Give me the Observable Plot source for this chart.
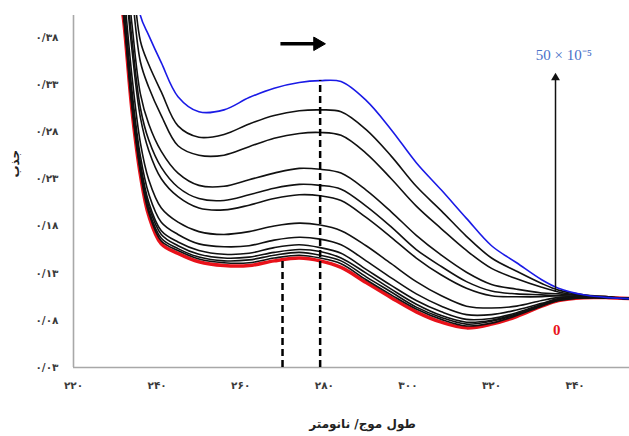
<!DOCTYPE html>
<html><head><meta charset="utf-8">
<script src="https://cdn.jsdelivr.net/npm/d3@7"></script>
<script src="https://cdn.jsdelivr.net/npm/@observablehq/plot@0.6"></script>
<style>body{margin:0;background:#fff}</style>
</head><body><div id="chart"></div>
<script>
const wavelengths = [231,232,234,236,238,241,245,250,256,262,268,274,279,284,290,296,302,308,314,320,326,332,336,342,348,353];

const red0   = [.430,.398,.302,.234,.191,.161,.151,.142,.138,.138,.143,.146,.143,.136,.120,.104,.089,.078,.072,.076,.084,.095,.101,.104,.104,.103];
const black11= [.433,.401,.305,.237,.194,.164,.154,.145,.141,.141,.146,.149,.146,.140,.123,.107,.092,.081,.074,.077,.085,.095,.101,.104,.104,.103];
const black10= [.436,.403,.308,.240,.197,.167,.156,.147,.143,.144,.149,.152,.149,.143,.126,.110,.094,.083,.076,.079,.086,.096,.101,.104,.104,.103];
const black9 = [.439,.406,.311,.242,.201,.171,.159,.150,.146,.147,.152,.155,.153,.146,.130,.113,.097,.085,.078,.080,.087,.096,.102,.104,.104,.103];
const black8 = [.443,.410,.315,.247,.205,.175,.163,.154,.150,.151,.157,.160,.157,.151,.134,.117,.101,.089,.081,.082,.088,.097,.102,.104,.104,.103];
const black7 = [.450,.417,.323,.254,.214,.184,.171,.161,.158,.159,.165,.168,.166,.160,.143,.125,.108,.095,.086,.086,.091,.098,.103,.104,.104,.103];
const black6 = [.464,.430,.338,.268,.229,.199,.184,.174,.171,.174,.180,.183,.181,.175,.159,.140,.121,.106,.095,.093,.095,.101,.104,.105,.104,.103];
const black5 = [.491,.456,.366,.295,.260,.230,.211,.199,.197,.202,.209,.213,.212,.207,.189,.168,.146,.128,.114,.106,.105,.105,.106,.105,.104,.103];
const black4 = [.501,.466,.377,.305,.271,.242,.221,.209,.207,.213,.220,.224,.223,.219,.201,.179,.155,.137,.121,.111,.108,.107,.106,.105,.104,.103];
const black3 = [.517,.481,.393,.320,.288,.259,.236,.223,.222,.229,.236,.241,.240,.236,.218,.195,.170,.149,.131,.118,.113,.109,.108,.106,.104,.103];
const black2 = [.551,.513,.428,.354,.327,.297,.265,.255,.255,.264,.273,.278,.279,.276,.257,.230,.201,.177,.154,.135,.124,.115,.110,.106,.104,.103];
const black1 = [.573,.534,.452,.376,.351,.322,.286,.274,.277,.288,.297,.302,.303,.301,.282,.254,.222,.196,.169,.146,.132,.119,.112,.107,.105,.103];
const blue50 = [.600,.560,.480,.403,.382,.353,.317,.301,.303,.316,.326,.332,.334,.333,.313,.282,.247,.218,.188,.159,.141,.123,.114,.107,.104,.103];

const yTicks = [0.03,0.08,0.13,0.18,0.23,0.28,0.33,0.38];
const yTickLabels = ["۰/۰۳","۰/۰۸","۰/۱۳","۰/۱۸","۰/۲۳","۰/۲۸","۰/۳۳","۰/۳۸"];
const xTicks = [220,240,260,280,300,320,340];
const xTickLabels = ["۲۲۰","۲۴۰","۲۶۰","۲۸۰","۳۰۰","۳۲۰","۳۴۰"];

const xTitle = "طول موج/ نانومتر";
const yTitle = "جذب";

// annotations (data units)
const dashedLines = [{x: 270, top: 0.146}, {x: 279, top: 0.334}];
const shiftArrowShaft = [{x1: 269.5, x2: 278.6, y: 0.373}];
const shiftArrowHead = [{x: 278.4, y: 0.373}];
const concArrowShaft = [{x: 335.3, y1: 0.110, y2: 0.338}];
const concArrowHead = [{x: 335.3, y: 0.337}];
const topLabel = [{x: 337.3, y: 0.361, text: "50 × 10⁻⁵"}];
const bottomLabel = [{x: 335.6, y: 0.070, text: "0"}];

const blacks = [black1,black2,black3,black4,black5,black6,black7,black8,black9,black10,black11];
const toRows = (vals, name) => wavelengths.map((w, i) => ({x: w, y: vals[i], s: name}));
const redRows = toRows(red0, "0");
const blueRows = toRows(blue50, "50");
const blackRows = blacks.flatMap((v, k) => toRows(v, "b" + (k + 1)));

const lab = (ticks, labels) => d => labels[ticks.findIndex(v => Math.abs(v - d) < 1e-9)];
const curve = "catmull-rom";

const chart = Plot.plot({
  width: 629, height: 436,
  marginLeft: 73, marginRight: 0, marginTop: 15, marginBottom: 69,
  x: {domain: [220, 353]},
  y: {domain: [0.03, 0.403]},
  style: {fontFamily: "DejaVu Sans", background: "#fff", color: "#333"},
  marks: [
    Plot.axisY({ticks: yTicks, tickFormat: lab(yTicks, yTickLabels), tickSize: 0, tickPadding: 15, fontSize: 10.5, fontWeight: "bold", fill: "#3a3a3a", label: null}),
    Plot.axisX({ticks: xTicks, tickFormat: lab(xTicks, xTickLabels), tickSize: 0, tickPadding: 14, fontSize: 10.5, fontWeight: "bold", fill: "#3a3a3a", label: null}),
    Plot.ruleX([220], {y1: 0.03, y2: 0.403, stroke: "#a8a8a8", strokeWidth: 1.6}),
    Plot.ruleY([0.03], {stroke: "#a8a8a8", strokeWidth: 1.6}),
    Plot.line(redRows, {x: "x", y: "y", stroke: "#e8121a", strokeWidth: 3.5, curve, clip: true}),
    Plot.line(blackRows, {x: "x", y: "y", z: "s", stroke: "#111", strokeWidth: 1.6, curve, clip: true}),
    Plot.line(blueRows, {x: "x", y: "y", stroke: "#1a1ae6", strokeWidth: 1.6, curve, clip: true}),
    Plot.ruleX(dashedLines, {x: "x", y1: 0.03, y2: "top", stroke: "#000", strokeWidth: 2.5, strokeDasharray: "7,4"}),
    Plot.link(shiftArrowShaft, {x1: "x1", x2: "x2", y1: "y", y2: "y", stroke: "#000", strokeWidth: 3.5}),
    Plot.dot(shiftArrowHead, {x: "x", y: "y", symbol: "triangle", rotate: 90, r: 5, fill: "#000", stroke: "#000", strokeWidth: 1}),
    Plot.link(concArrowShaft, {x1: "x", x2: "x", y1: "y1", y2: "y2", stroke: "#111", strokeWidth: 1.5}),
    Plot.dot(concArrowHead, {x: "x", y: "y", symbol: "triangle", r: 3.3, fill: "#111"}),
    Plot.text(topLabel, {x: "x", y: "y", text: "text", fill: "#4a70c8", fontSize: 15, fontFamily: "Liberation Serif"}),
    Plot.text(bottomLabel, {x: "x", y: "y", text: "text", fill: "#e8121a", fontSize: 15, fontWeight: "bold", fontFamily: "Liberation Serif"}),
    Plot.text([yTitle], {frameAnchor: "left", dx: -58, dy: -14, rotate: -90, fontSize: 12, fontWeight: "bold", fill: "#222"}),
    Plot.text([xTitle], {frameAnchor: "bottom", dx: 11, dy: 60, fontSize: 12, fontWeight: "bold", fill: "#222"})
  ]
});
document.getElementById("chart").appendChild(chart);
</script>
</body></html>
